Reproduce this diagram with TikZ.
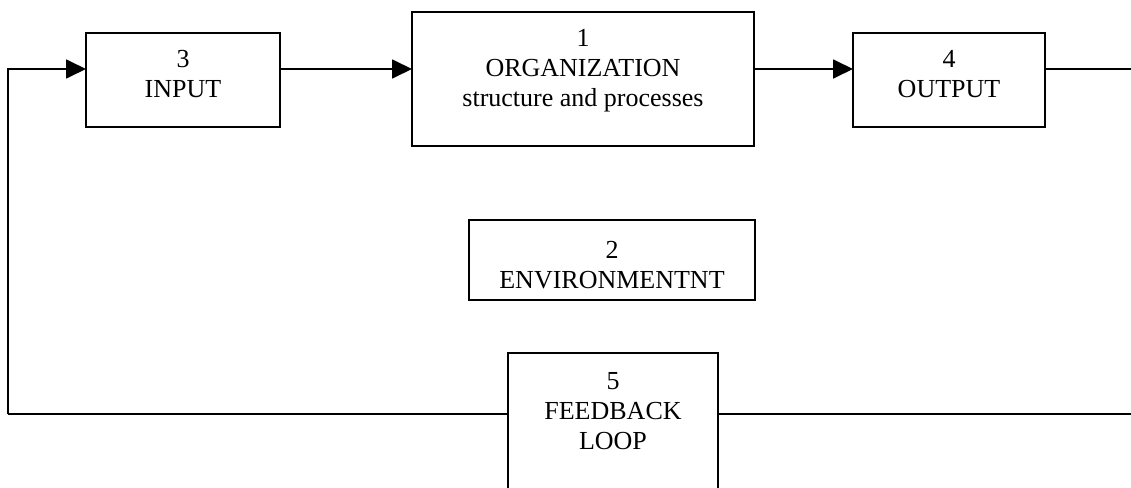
\documentclass[tikz,border=0pt]{standalone}
\usepackage{fontspec}
\setmainfont{Liberation Serif}
\usetikzlibrary{arrows.meta}
\begin{document}
\begin{tikzpicture}[x=1pt,y=-1pt,
  box/.style={draw, line width=1.8pt, inner sep=0pt, outer sep=0pt, anchor=north west},
  txt/.style={align=center, inner sep=0pt, font=\fontsize{26}{30}\selectfont},
  conn/.style={line width=1.8pt},
  arr/.style={line width=1.8pt, -{Triangle[length=20pt,width=19pt]}}]
\useasboundingbox (0,0) rectangle (1131,487);
\clip (0,0) rectangle (1131,487);
% boxes
\node[box, minimum width=194pt, minimum height=94pt] (in) at (86,33) {};
\node[box, minimum width=342pt, minimum height=134pt] (org) at (412,12) {};
\node[box, minimum width=192pt, minimum height=94pt] (out) at (853,33) {};
\node[box, minimum width=286pt, minimum height=80pt] (env) at (469,220) {};
\node[box, minimum width=210pt, minimum height=160pt] (fb) at (508,353) {};
% texts
\node[txt] (tin) at (183,74) {3\\INPUT};
\node[txt] (torg) at (583,71) {1\\ORGANIZATION\\structure and processes};
\node[txt] (tout) at (949,74) {4\\OUTPUT};
\node[txt] (tenv) at (612,265) {2\\ENVIRONMENTNT};
\node[txt] (tfb) at (613,411) {5\\FEEDBACK\\LOOP};
% connector corners
\coordinate (tl) at (8,69);
\coordinate (bl) at (8,414);
\coordinate (tr) at (1131,69);
\coordinate (br) at (1131,414);
% connectors
\draw[arr] (bl) -- (tl) -- (tl -| in.west);
\draw[arr] (in.east |- tl) -- (org.west |- tl);
\draw[arr] (org.east |- tl) -- (out.west |- tl);
\draw[conn] (out.east |- tl) -- (tr);
\draw[conn] (bl) -- (bl -| fb.west);
\draw[conn] (fb.east |- br) -- (br);
\end{tikzpicture}
\end{document}
